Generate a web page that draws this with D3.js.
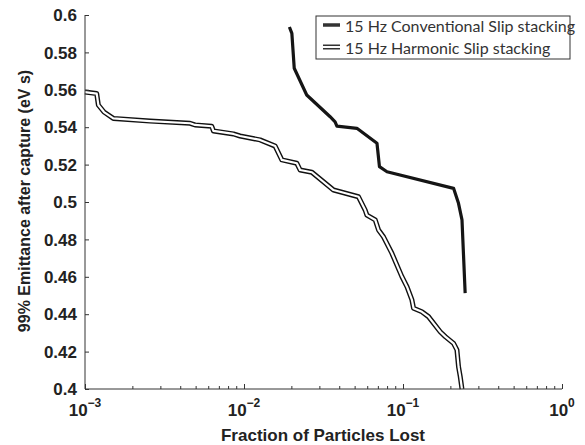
<!DOCTYPE html>
<html>
<head>
<script src="https://d3js.org/d3.v7.min.js"></script>
<style>
  body { margin: 0; background: #fff; }
</style>
</head>
<body>
<svg id="chart"></svg>
<script>
// conventional slip stacking (thick line)
var convLost = [0.0193, 0.0200, 0.0207, 0.0248, 0.0348, 0.0374, 0.0384, 0.0513, 0.0686, 0.0711, 0.0793, 0.208, 0.2234, 0.235, 0.246];
var convEmit = [0.5936, 0.5902, 0.5715, 0.5572, 0.5456, 0.5429, 0.5406, 0.5394, 0.5314, 0.5189, 0.5162, 0.5073, 0.4993, 0.4904, 0.4513];

// harmonic slip stacking (double line)
var harmLost = [0.001, 0.001185, 0.001213, 0.001317, 0.001507, 0.002565, 0.00458, 0.00492, 0.00627, 0.00642, 0.00858, 0.00944, 0.01262,
  0.0157, 0.0173, 0.0215, 0.02254, 0.02673, 0.03656, 0.0525, 0.05781, 0.0593, 0.0669, 0.0702, 0.0754, 0.0851, 0.0984, 0.1059,
  0.1138, 0.1165, 0.1315, 0.1446, 0.1714, 0.1845, 0.208, 0.2184, 0.2235, 0.2291, 0.2349];
var harmEmit = [0.5588, 0.558, 0.5519, 0.5481, 0.5447, 0.5433, 0.5421, 0.5412, 0.5405, 0.538, 0.5364, 0.5353, 0.5332,
  0.5299, 0.5225, 0.5207, 0.5171, 0.5159, 0.5064, 0.5028, 0.4957, 0.4930, 0.4904, 0.4850, 0.4814, 0.4726, 0.4601, 0.4547,
  0.4476, 0.4432, 0.4413, 0.4387, 0.4306, 0.4280, 0.4244, 0.4209, 0.4119, 0.4066, 0.4];

var yTicks = [0.4, 0.42, 0.44, 0.46, 0.48, 0.5, 0.52, 0.54, 0.56, 0.58, 0.6];
var xTicks = [1e-3, 1e-2, 1e-1, 1e0];
var xExp = ["\u22123", "\u22122", "\u22121", "0"];
var legendNames = ["15 Hz Conventional Slip stacking", "15 Hz Harmonic Slip stacking"];

var W = 585, H = 445;
var margin = {top: 15, right: 23, bottom: 56, left: 85};
var width = W - margin.left - margin.right,
    height = H - margin.top - margin.bottom;

var svg = d3.select("#chart")
    .attr("width", W)
    .attr("height", H)
    .style("font-family", "'Liberation Sans', Arial, sans-serif");

var g = svg.append("g")
    .attr("transform", "translate(" + margin.left + "," + margin.top + ")");

var x = d3.scaleLog().domain([1e-3, 1]).range([0, width]);
var y = d3.scaleLinear().domain([0.4, 0.6]).range([height, 0]);

var conv = convLost.map((d, i) => [d, convEmit[i]]);
var harm = harmLost.map((d, i) => [d, harmEmit[i]]);

var line = d3.line().x(d => x(d[0])).y(d => y(d[1]));

// curves
g.append("path").datum(harm)
    .attr("d", line).attr("fill", "none")
    .attr("stroke", "#111").attr("stroke-width", 5).attr("stroke-linejoin", "round");
g.append("path").datum(harm)
    .attr("d", line).attr("fill", "none")
    .attr("stroke", "#fff").attr("stroke-width", 2.2).attr("stroke-linejoin", "round");
g.append("path").datum(conv)
    .attr("d", line).attr("fill", "none")
    .attr("stroke", "#151515").attr("stroke-width", 3.2).attr("stroke-linejoin", "round");

// y axis, ticks pointing inward
var yAxis = g.append("g")
    .call(d3.axisRight(y).tickValues(yTicks).tickSize(4).tickFormat(""));
yAxis.select(".domain").attr("stroke", "#333").attr("d", "M0," + height + "V0");
yAxis.selectAll(".tick line").attr("stroke", "#333");

g.selectAll(".ylab")
    .data(yTicks).enter().append("text")
    .attr("x", -8)
    .attr("y", d => y(d))
    .attr("dy", "0.36em")
    .attr("text-anchor", "end")
    .attr("font-size", 17)
    .attr("font-weight", "bold")
    .attr("fill", "#222")
    .text(d => String(d));

// x axis, major + minor ticks inward
var minor = [];
for (var e = -3; e < 0; e++) for (var k = 2; k <= 9; k++) minor.push(k * Math.pow(10, e));

var xAxisG = g.append("g").attr("transform", "translate(0," + height + ")");
xAxisG.call(d3.axisTop(x).tickValues(xTicks).tickSize(5).tickFormat(""));
xAxisG.select(".domain").attr("stroke", "#333").attr("d", "M0,0H" + width);
xAxisG.selectAll(".tick line").attr("stroke", "#333");
xAxisG.selectAll(".minor")
    .data(minor).enter().append("line")
    .attr("x1", d => x(d)).attr("x2", d => x(d))
    .attr("y1", 0).attr("y2", -3)
    .attr("stroke", "#333");

var xl = g.selectAll(".xlab")
    .data(xTicks).enter().append("text")
    .attr("x", d => x(d))
    .attr("y", height + 27)
    .attr("text-anchor", "middle")
    .attr("font-size", 17)
    .attr("font-weight", "bold")
    .attr("fill", "#222");
xl.append("tspan").text("10");
xl.append("tspan").attr("dy", -9).attr("font-size", 12).text((d, i) => xExp[i]);

// axis titles
svg.append("text")
    .attr("x", 323)
    .attr("y", H - 4)
    .attr("text-anchor", "middle")
    .attr("font-size", 17)
    .attr("font-weight", "bold")
    .attr("fill", "#222")
    .text("Fraction of Particles Lost");

svg.append("text")
    .attr("transform", "translate(30,201) rotate(-90)")
    .attr("text-anchor", "middle")
    .attr("font-size", 16)
    .attr("font-weight", "bold")
    .attr("fill", "#222")
    .text("99% Emittance after capture (eV s)");

// legend
var lg = svg.append("g").attr("transform", "translate(316,16)");
lg.append("rect").attr("width", 254).attr("height", 43)
    .attr("fill", "#fff").attr("stroke", "#333").attr("stroke-width", 1);
var rows = lg.selectAll(".row").data(legendNames).enter().append("g")
    .attr("transform", (d, i) => "translate(0," + (9 + i * 22) + ")");
rows.append("text")
    .attr("x", 29).attr("y", 1).attr("dy", "0.35em")
    .attr("font-family", "Lato, sans-serif")
    .attr("font-size", 16)
    .attr("fill", "#333")
    .text(d => d);
rows.filter((d, i) => i === 0).append("line")
    .attr("x1", 7).attr("x2", 24).attr("stroke", "#333").attr("stroke-width", 3.5);
var h2 = rows.filter((d, i) => i === 1);
h2.append("line").attr("x1", 7).attr("x2", 24).attr("stroke", "#333").attr("stroke-width", 5);
h2.append("line").attr("x1", 6).attr("x2", 25).attr("stroke", "#fff").attr("stroke-width", 2);
</script>
</body>
</html>
